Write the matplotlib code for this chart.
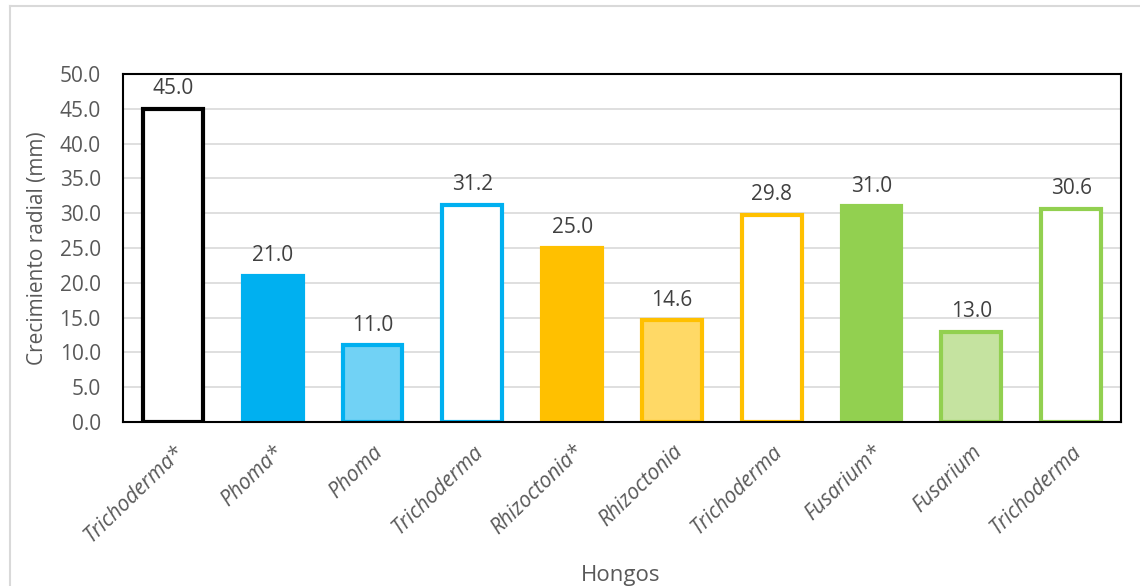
import matplotlib.pyplot as plt
from matplotlib.lines import Line2D

categories = ['Trichoderma*', 'Phoma*', 'Phoma', 'Trichoderma', 'Rhizoctonia*',
              'Rhizoctonia', 'Trichoderma', 'Fusarium*', 'Fusarium', 'Trichoderma']
values = [45.0, 21.0, 11.0, 31.2, 25.0, 14.6, 29.8, 31.0, 13.0, 30.6]
fill_colors = ['#FFFFFF', '#00B0F0', '#71D2F5', '#FFFFFF', '#FFC000',
               '#FFD966', '#FFFFFF', '#92D050', '#C5E3A0', '#FFFFFF']
edge_colors = ['#000000', '#00B0F0', '#00B0F0', '#00B0F0', '#FFC000',
               '#FFC000', '#FFC000', '#92D050', '#92D050', '#92D050']
y_ticks = [0, 5, 10, 15, 20, 25, 30, 35, 40, 45, 50]

plt.rcParams['font.family'] = ['Open Sans', 'DejaVu Sans']
text_color = '#595959'

fig = plt.figure(figsize=(11.4, 5.86), dpi=100)
ax = fig.add_axes([123 / 1140, 1 - 422 / 586, (1121 - 123) / 1140, (422 - 74) / 586])

x = list(range(len(categories)))
ax.bar(x, values, width=0.6, color=fill_colors, edgecolor=edge_colors,
       linewidth=3, zorder=3)

for xi, v in zip(x, values):
    ax.annotate(f'{v:.1f}', (xi, v), xytext=(0, 7), textcoords='offset points',
                ha='center', va='bottom', fontsize=15, color='#404040')

ax.set_xlim(-0.5, len(categories) - 0.5)
ax.set_ylim(0, 50)
ax.set_yticks(y_ticks)
ax.set_yticklabels([f'{t:.1f}' for t in y_ticks], fontsize=15, color=text_color)
ax.set_xticks(x)
ax.set_xticklabels(categories, rotation=44, ha='right', rotation_mode='anchor',
                   fontsize=15, color=text_color, style='italic')
ax.tick_params(axis='y', length=0, pad=16)
ax.tick_params(axis='x', length=0, pad=14)
ax.grid(axis='y', color='#D9D9D9', linewidth=1.2, zorder=0)
for s in ax.spines.values():
    s.set_color('black')
    s.set_linewidth(1.5)
    s.set_zorder(4)

ax.set_ylabel('Crecimiento radial (mm)', fontsize=15, color=text_color, labelpad=8)
fig.text(621 / 1140, 1 - 576 / 586, 'Hongos', ha='center', va='center',
         fontsize=16, color=text_color)

# light gray outer chart border (top and left only visible)
fig.add_artist(Line2D([10 / 1140, 10 / 1140], [0, 1 - 6 / 586], transform=fig.transFigure,
                      color='#D9D9D9', linewidth=1.5))
fig.add_artist(Line2D([10 / 1140, 1], [1 - 6 / 586, 1 - 6 / 586], transform=fig.transFigure,
                      color='#D9D9D9', linewidth=1.5))

fig.savefig('out.png', dpi=100)
